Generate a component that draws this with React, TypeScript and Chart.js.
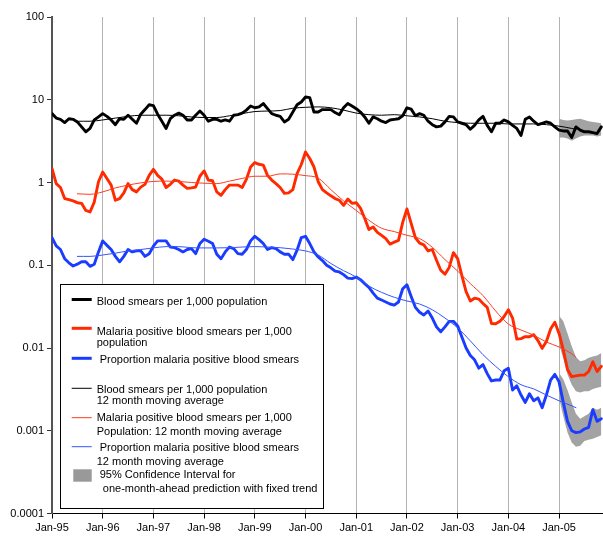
import React, { useEffect, useRef } from 'react';
import { Chart, registerables } from 'chart.js';

Chart.register(...registerables);

// ---------- data (month index 0 = Jan-95) ----------
const yearTicks = [0, 12, 24, 36, 48, 60, 72, 84, 96, 108, 120];
const yearLabels = ['Jan-95', 'Jan-96', 'Jan-97', 'Jan-98', 'Jan-99', 'Jan-00', 'Jan-01', 'Jan-02', 'Jan-03', 'Jan-04', 'Jan-05'];
const yTicks = [0.0001, 0.001, 0.01, 0.1, 1, 10, 100];
const yTickLabels = ['0.0001', '0.001', '0.01', '0.1', '1', '10', '100'];

const bloodSmears = [
  6.8, 6.0, 5.8, 5.3, 5.9, 5.8, 5.4, 4.7, 4.1, 4.5, 5.7, 6.2,
  6.8, 6.3, 5.7, 5.0, 5.9, 5.8, 6.5, 5.8, 5.2, 6.7, 7.6, 8.7,
  8.5, 6.7, 5.5, 4.5, 5.9, 6.5, 6.9, 6.5, 5.7, 5.7, 6.5, 7.3,
  6.5, 5.5, 5.8, 5.8, 5.5, 5.7, 5.5, 6.5, 6.6, 6.9, 7.5, 8.4,
  8.0, 8.2, 9.0, 7.8, 6.8, 6.5, 6.3, 5.4, 5.8, 7.1, 8.7, 9.4,
  10.8, 10.6, 7.1, 7.1, 7.6, 7.6, 7.6, 7.0, 6.6, 8.0, 9.0, 8.4,
  7.8, 7.1, 6.2, 5.2, 6.2, 5.9, 5.5, 5.3, 5.7, 5.8, 5.9, 6.4,
  8.0, 7.7, 6.4, 6.8, 6.5, 5.5, 5.0, 4.7, 4.8, 5.4, 6.3, 6.2,
  5.4, 5.2, 5.0, 4.4, 4.9, 5.7, 6.3, 4.9, 4.1, 5.2, 5.2, 5.7,
  5.4, 4.9, 4.5, 3.7, 5.8, 6.2, 5.5, 5.0, 5.2, 5.4, 5.2, 4.7,
  4.3, 4.2, 4.2, 3.5, 4.7, 4.3, 4.1, 4.1, 4.0, 3.9, 4.7,
];

const positiveSmears = [
  1.48, 0.97, 0.87, 0.64, 0.62, 0.60, 0.57, 0.56, 0.46, 0.44, 0.58, 1.02,
  1.34, 1.12, 0.93, 0.61, 0.64, 0.75, 0.97, 0.82, 0.77, 0.88, 0.95, 1.22,
  1.44, 1.22, 1.10, 0.87, 0.95, 1.07, 1.04, 0.93, 0.85, 0.86, 0.88, 1.19,
  1.38, 1.07, 1.05, 0.77, 0.70, 0.82, 0.93, 0.93, 0.93, 0.87, 1.09, 1.54,
  1.74, 1.66, 1.62, 1.22, 1.07, 0.97, 0.87, 0.74, 0.75, 0.82, 1.28, 1.65,
  2.34, 1.95, 1.54, 1.02, 0.82, 0.75, 0.69, 0.64, 0.61, 0.53, 0.63, 0.56,
  0.57, 0.49, 0.37, 0.27, 0.29, 0.25, 0.23, 0.21, 0.18, 0.19, 0.20, 0.33,
  0.48, 0.32, 0.215, 0.185, 0.176, 0.149, 0.155, 0.115, 0.087, 0.078, 0.094, 0.142,
  0.12, 0.075, 0.048, 0.037, 0.040, 0.039, 0.0345, 0.031, 0.0198, 0.0196, 0.021, 0.024,
  0.029, 0.023, 0.0128, 0.013, 0.0137, 0.0137, 0.0145, 0.0123, 0.0099, 0.012, 0.017, 0.0205,
  0.015, 0.0095, 0.0055, 0.0045, 0.0046, 0.0047, 0.0047, 0.0052, 0.0068, 0.0052, 0.006,
];

const proportionPositive = [
  0.216, 0.171, 0.155, 0.12, 0.107, 0.098, 0.103, 0.11, 0.11, 0.097, 0.103, 0.145,
  0.197, 0.174, 0.155, 0.128, 0.11, 0.128, 0.155, 0.145, 0.149, 0.149, 0.128, 0.138,
  0.17, 0.197, 0.197, 0.197, 0.166, 0.163, 0.155, 0.145, 0.155, 0.159, 0.138, 0.183,
  0.206, 0.195, 0.183, 0.136, 0.12, 0.145, 0.166, 0.159, 0.138, 0.136, 0.155, 0.197,
  0.224, 0.204, 0.183, 0.155, 0.163, 0.159, 0.145, 0.136, 0.136, 0.117, 0.152, 0.216,
  0.224, 0.183, 0.145, 0.126, 0.114, 0.10, 0.093, 0.085, 0.083, 0.077, 0.07, 0.069,
  0.072, 0.067, 0.06, 0.054, 0.046, 0.04, 0.038, 0.036, 0.034, 0.033, 0.036, 0.052,
  0.058, 0.042, 0.031, 0.027, 0.025, 0.028, 0.023, 0.018, 0.0157, 0.018, 0.021, 0.021,
  0.0185, 0.0136, 0.010, 0.0081, 0.0072, 0.0057, 0.0063, 0.0049, 0.0040, 0.0041, 0.0041, 0.0053,
  0.0057, 0.0031, 0.0035, 0.0027, 0.0022, 0.0028, 0.0023, 0.0025, 0.0019, 0.0027, 0.0041, 0.0048,
  0.0039, 0.0022, 0.0013, 0.001, 0.00095, 0.00097, 0.00105, 0.0011, 0.0018, 0.0013, 0.0014,
];

const maMonths = [
  6, 9, 12, 15, 18, 21, 24, 27, 30, 33, 36, 39, 42, 45, 48, 51, 54, 57, 60, 63,
  66, 69, 72, 75, 78, 81, 84, 87, 90, 93, 96, 99, 102, 105, 108, 111, 114, 117, 120, 123, 124,
];
const bloodSmearsMA = [
  5.5, 5.5, 5.7, 6.0, 6.3, 6.5, 6.5, 6.5, 6.4, 6.2, 6.1, 6.1, 6.4, 6.8, 7.2, 7.3, 7.4, 7.9, 8.1, 8.2,
  8.0, 7.5, 6.9, 6.6, 6.5, 6.6, 6.4, 6.2, 5.9, 5.5, 5.3, 5.2, 5.2, 5.2, 5.1, 5.1, 5.1, 5.0, 4.8, 4.5, 4.4,
];
const positiveSmearsMA = [
  0.73, 0.72, 0.77, 0.86, 0.93, 0.99, 1.03, 1.04, 1.03, 1.0, 0.98, 0.97, 1.04, 1.12, 1.19, 1.19, 1.27, 1.26, 1.21, 1.13,
  0.82, 0.6, 0.46, 0.35, 0.28, 0.255, 0.23, 0.21, 0.165, 0.117, 0.085, 0.06, 0.043, 0.028, 0.0195, 0.0165, 0.0143, 0.0118, 0.0103, 0.0085, 0.0077,
];
const proportionMA = [
  0.128, 0.128, 0.133, 0.14, 0.149, 0.155, 0.162, 0.168, 0.168, 0.163, 0.162, 0.162, 0.163, 0.166, 0.168, 0.166, 0.163, 0.157, 0.149, 0.133,
  0.105, 0.086, 0.072, 0.056, 0.047, 0.041, 0.037, 0.034, 0.029, 0.023, 0.0175, 0.0122, 0.0083, 0.006, 0.0045, 0.0036, 0.0032, 0.0027, 0.0023, 0.002, 0.0019,
];

const ciMonths = [120, 121, 122, 123, 124, 125, 126, 127, 128, 129, 130];
const bloodUpper = [5.9, 5.7, 5.6, 5.7, 5.8, 5.9, 5.7, 5.5, 5.4, 5.3, 5.2];
const bloodLower = [3.5, 3.5, 3.4, 3.2, 3.4, 3.6, 3.7, 3.7, 3.7, 3.6, 3.7];
const positiveUpper = [0.0245, 0.021, 0.015, 0.0105, 0.0078, 0.0069, 0.0071, 0.0076, 0.0079, 0.0081, 0.0087];
const positiveLower = [0.011, 0.0075, 0.0048, 0.0036, 0.003, 0.0029, 0.003, 0.003, 0.0032, 0.0033, 0.0034];
const proportionUpper = [0.005, 0.0042, 0.0031, 0.0022, 0.0016, 0.0014, 0.0015, 0.0016, 0.0019, 0.0018, 0.0019];
const proportionLower = [0.0025, 0.0015, 0.00095, 0.00072, 0.00064, 0.00066, 0.00075, 0.00078, 0.0008, 0.00084, 0.00088];

const legendLabels = [
  ['Blood smears per 1,000 population'],
  ['Malaria positive blood smears per 1,000', 'population'],
  [' Proportion malaria positive blood smears'],
  ['Blood smears per 1,000 population', '12 month moving average'],
  ['Malaria positive blood smears per 1,000', 'Population: 12 month moving average'],
  [' Proportion malaria positive blood smears', '12 month moving average'],
  [' 95% Confidence Interval for', '  one-month-ahead prediction with fixed trend'],
];

// ---------- styles ----------
const BLACK = '#000000';
const RED = '#ff2a00';
const BLUE = '#1a3cff';
const RED_THIN = '#ff3b1f';
const BLUE_THIN = '#3355ff';
const BAND = '#a3a3a3';
const FONT = '"Liberation Sans", Arial, sans-serif';

const toPts = (xs: number[], ys: number[]) => ys.map((y, i) => ({ x: xs[i], y }));
const monthIdx = (arr: number[]) => arr.map((_, i) => i);

const legendPlugin = {
  id: 'customLegend',
  afterDraw(chart: any) {
    const { ctx, chartArea } = chart;
    const left = chartArea.left + 8;
    const top = chartArea.bottom - 229.5;
    const w = 263;
    const h = 224;
    ctx.save();
    ctx.fillStyle = '#ffffff';
    ctx.fillRect(left, top, w, h);
    ctx.strokeStyle = '#000';
    ctx.lineWidth = 1;
    ctx.strokeRect(Math.round(left) + 0.5, Math.round(top) + 0.5, w, h);

    const symX1 = left + 11.7;
    const symX2 = left + 31.7;
    const textX = left + 36.7;
    const items = [
      { kind: 'line', color: BLACK, width: 3, sym: 15.5, lines: [18.3] },
      { kind: 'line', color: RED, width: 3, sym: 44.3, lines: [47.7, 58.7] },
      { kind: 'line', color: BLUE, width: 3, sym: 74.3, lines: [76] },
      { kind: 'line', color: BLACK, width: 1, sym: 104.3, lines: [106, 116.7] },
      { kind: 'line', color: RED_THIN, width: 1, sym: 133.7, lines: [134.3, 147.7] },
      { kind: 'line', color: BLUE_THIN, width: 1, sym: 162.7, lines: [164.3, 177.7] },
      { kind: 'box', color: '#999999', width: 0, sym: 191, lines: [191, 205.3] },
    ];
    ctx.font = `11px ${FONT}`;
    ctx.textBaseline = 'middle';
    ctx.textAlign = 'left';
    items.forEach((it, k) => {
      if (it.kind === 'line') {
        ctx.strokeStyle = it.color;
        ctx.lineWidth = it.width;
        ctx.beginPath();
        ctx.moveTo(symX1, top + it.sym);
        ctx.lineTo(symX2, top + it.sym);
        ctx.stroke();
      } else {
        ctx.fillStyle = it.color;
        ctx.fillRect(left + 13.3, top + 185.3, 18.4, 12.4);
      }
      ctx.fillStyle = '#000';
      legendLabels[k].forEach((txt, j) => {
        ctx.fillText(txt, textX, top + it.lines[j]);
      });
    });
    ctx.restore();
  },
};

export default function App() {
  const canvasRef = useRef<HTMLCanvasElement | null>(null);

  useEffect(() => {
    document.body.style.margin = '0';
    const canvas = canvasRef.current;
    if (!canvas) return;

    const lineBase = {
      pointRadius: 0,
      pointHoverRadius: 0,
      fill: false,
      borderJoinStyle: 'round' as const,
      borderCapStyle: 'round' as const,
    };
    const band = (up: number[], lo: number[]) => [
      { ...lineBase, data: toPts(ciMonths, up), borderWidth: 0, borderColor: 'rgba(0,0,0,0)', backgroundColor: BAND, fill: '+1', order: 10 },
      { ...lineBase, data: toPts(ciMonths, lo), borderWidth: 0, borderColor: 'rgba(0,0,0,0)', fill: false, order: 10 },
    ];

    const datasets: any[] = [
      ...band(bloodUpper, bloodLower),
      ...band(positiveUpper, positiveLower),
      ...band(proportionUpper, proportionLower),
      { ...lineBase, label: 'Blood smears', data: toPts(monthIdx(bloodSmears), bloodSmears), borderColor: BLACK, borderWidth: 2.9, order: 2 },
      { ...lineBase, label: 'Positive smears', data: toPts(monthIdx(positiveSmears), positiveSmears), borderColor: RED, borderWidth: 2.9, order: 2 },
      { ...lineBase, label: 'Proportion', data: toPts(monthIdx(proportionPositive), proportionPositive), borderColor: BLUE, borderWidth: 2.9, order: 2 },
      { ...lineBase, label: 'Blood MA', data: toPts(maMonths, bloodSmearsMA), borderColor: BLACK, borderWidth: 1, tension: 0.4, cubicInterpolationMode: 'monotone', order: 1 },
      { ...lineBase, label: 'Positive MA', data: toPts(maMonths, positiveSmearsMA), borderColor: RED_THIN, borderWidth: 1, tension: 0.4, cubicInterpolationMode: 'monotone', order: 1 },
      { ...lineBase, label: 'Proportion MA', data: toPts(maMonths, proportionMA), borderColor: BLUE_THIN, borderWidth: 1, tension: 0.4, cubicInterpolationMode: 'monotone', order: 1 },
    ];

    const chart = new Chart(canvas, {
      type: 'line',
      data: { datasets },
      options: {
        animation: false,
        responsive: false,
        devicePixelRatio: 1,
        layout: { padding: { top: 17, right: 0, bottom: 0, left: 0 } },
        plugins: {
          legend: { display: false },
          tooltip: { enabled: false },
        },
        events: [],
        scales: {
          x: {
            type: 'linear',
            min: 0,
            max: 130.4,
            afterBuildTicks: (s: any) => {
              s.ticks = yearTicks.map((v) => ({ value: v }));
            },
            afterFit: (s: any) => {
              s.height = 22.5;
            },
            ticks: {
              autoSkip: false,
              maxRotation: 0,
              padding: 3,
              color: '#000',
              font: { family: FONT, size: 11 },
              callback: (v: any) => {
                const k = yearTicks.indexOf(Number(v));
                return k >= 0 ? yearLabels[k] : '';
              },
            },
            grid: {
              color: '#b3b3b3',
              lineWidth: 1,
              tickColor: '#000',
              tickLength: 5,
              drawOnChartArea: true,
            },
            border: { display: true, color: '#000', width: 1 },
          },
          y: {
            type: 'logarithmic',
            min: 0.0001,
            max: 100,
            afterBuildTicks: (s: any) => {
              s.ticks = yTicks.map((v) => ({ value: v }));
            },
            afterFit: (s: any) => {
              s.width = 52;
            },
            ticks: {
              padding: 3,
              color: '#000',
              font: { family: FONT, size: 11 },
              callback: (v: any) => {
                const k = yTicks.findIndex((t) => Math.abs(Math.log10(t) - Math.log10(Number(v))) < 1e-6);
                return k >= 0 ? yTickLabels[k] : '';
              },
            },
            grid: {
              drawOnChartArea: false,
              tickColor: '#333',
              tickLength: 5,
            },
            border: { display: true, color: '#555', width: 2 },
          },
        },
      },
      plugins: [legendPlugin],
    });

    return () => chart.destroy();
  }, []);

  return (
    <div style={{ width: 603, height: 536 }}>
      <canvas ref={canvasRef} width={603} height={536} style={{ display: 'block' }} />
    </div>
  );
}
